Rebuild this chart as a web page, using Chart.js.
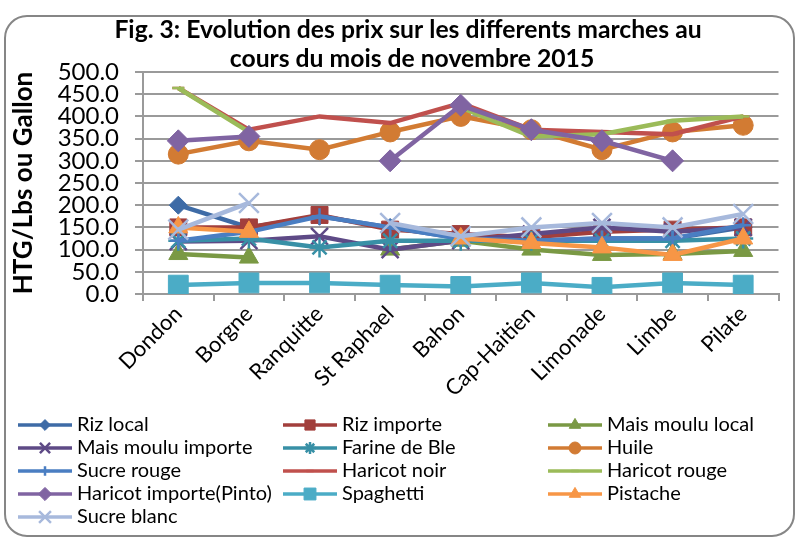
<!DOCTYPE html>
<html>
<head>
<meta charset="utf-8">
<script src="https://cdn.jsdelivr.net/npm/chart.js@4.4.1/dist/chart.umd.min.js"></script>
<style>
  html, body { margin: 0; padding: 0; background: #fff; }
  #wrap { width: 795px; height: 539px; }
</style>
</head>
<body>
<div id="wrap"><canvas id="chart" width="795" height="539"></canvas></div>
<script>
const FONT = "Lato, 'Open Sans', sans-serif";

const categories = ["Dondon", "Borgne", "Ranquitte", "St Raphael", "Bahon", "Cap-Haitien", "Limonade", "Limbe", "Pilate"];
const yTicks = { min: 0, max: 500, step: 50 };

const rizLocal        = [200, 150, 175, 150, 125, 120, 125, 125, 150];
const rizImporte      = [150, 150, 178, 145, 135, 128, 140, 145, 150];
const maisLocal       = [90, 82, null, 100, 120, 100, 88, 90, 97];
const maisImporte     = [118, 120, 130, 100, 120, 135, 150, 140, 150];
const farineBle       = [120, 125, 105, 120, 120, 120, 120, 120, 125];
const huile           = [315, 345, 325, 365, 400, 370, 325, 365, 380];
const sucreRouge      = [120, 140, 175, 150, 125, 120, 125, 125, 155];
const haricotNoir     = [464, 370, 400, 385, 430, 370, 365, 360, 400];
const haricotRouge    = [464, 365, null, null, 420, 355, 360, 390, 400];
const haricotImporte  = [345, 355, null, 300, 425, 370, 345, 300, null];
const spaghetti       = [20, 25, 25, 20, 17, 25, 15, 25, 20];
const pistache        = [150, 140, null, null, 125, 115, 105, 88, 125];
const sucreBlanc      = [145, 205, null, 160, 130, 150, 160, 150, 180];

// label, data, colour, marker, marker radius
const series = [
  ["Riz local", rizLocal, "#3E6BA6", "rectRot", 9],
  ["Riz importe", rizImporte, "#A23F3C", "rect", 12],
  ["Mais moulu local", maisLocal, "#7A9944", "triangle", 11],
  ["Mais moulu importe", maisImporte, "#5E4A86", "crossRot", 12],
  ["Farine de Ble", farineBle, "#3890A6", "star", 10],
  ["Huile", huile, "#D27B33", "circle", 10],
  ["Sucre rouge", sucreRouge, "#4A7EC2", "cross", 8],
  ["Haricot noir", haricotNoir, "#C0504D", "line", 6],
  ["Haricot rouge", haricotRouge, "#9BBB59", "line", 6],
  ["Haricot importe(Pinto)", haricotImporte, "#8064A2", "rectRot", 11],
  ["Spaghetti", spaghetti, "#4BACC6", "rect", 14],
  ["Pistache", pistache, "#F79646", "triangle", 11],
  ["Sucre blanc", sucreBlanc, "#A7B9DC", "crossRot", 14]
];

const datasets = series.map(([label, data, color, style, r], i) => ({
  label: label,
  data: data,
  borderColor: color,
  backgroundColor: color,
  pointBackgroundColor: color,
  pointBorderColor: color,
  pointStyle: style,
  pointRadius: r,
  pointBorderWidth: (style === "cross" || style === "crossRot" || style === "star" || style === "line") ? 2.5 : 1,
  borderWidth: 4.5,
  tension: 0,
  spanGaps: false,
  order: series.length - i
}));

const frame = {
  id: "frame",
  beforeDraw(chart) {
    const ctx = chart.ctx;
    ctx.save();
    ctx.fillStyle = "#fff";
    ctx.fillRect(0, 0, chart.width, chart.height);
    ctx.strokeStyle = "#868686";
    ctx.lineWidth = 2;
    ctx.beginPath();
    ctx.roundRect(5, 16, 789, 520, 22);
    ctx.stroke();
    // title
    ctx.fillStyle = "#000";
    ctx.font = "bold 24.7px " + FONT;
    ctx.textAlign = "center";
    ctx.textBaseline = "middle";
    ctx.fillText("Fig. 3: Evolution des prix sur les differents marches au", 408, 30);
    ctx.fillText("cours du mois de novembre 2015", 412, 59);
    ctx.restore();
  }
};

const legendCols = [18, 283, 548];
const legendRows = [425, 448, 471, 494, 517];

const gridLegend = {
  id: "gridLegend",
  afterDraw(chart) {
    const ctx = chart.ctx;
    ctx.save();
    chart.data.datasets.forEach((ds, i) => {
      const x = legendCols[i % 3];
      const y = legendRows[Math.floor(i / 3)];
      ctx.strokeStyle = ds.borderColor;
      ctx.lineWidth = 3.5;
      ctx.beginPath();
      ctx.moveTo(x, y);
      ctx.lineTo(x + 54, y);
      ctx.stroke();
      ctx.fillStyle = ds.borderColor;
      ctx.lineWidth = ds.pointBorderWidth;
      Chart.helpers.drawPoint(ctx, {
        pointStyle: ds.pointStyle,
        radius: ds.pointRadius * 0.6,
        rotation: 0,
        borderWidth: ds.pointBorderWidth
      }, x + 27, y);
      ctx.fillStyle = "#000";
      ctx.font = "20px " + FONT;
      ctx.textAlign = "left";
      ctx.textBaseline = "middle";
      ctx.fillText(ds.label, x + 59, y);
    });
    ctx.restore();
  }
};

new Chart(document.getElementById("chart"), {
  type: "line",
  data: { labels: categories, datasets: datasets },
  plugins: [frame, gridLegend],
  options: {
    responsive: false,
    animation: false,
    layout: { padding: { top: 72, left: 8, right: 13, bottom: 135 } },
    plugins: {
      legend: { display: false },
      title: { display: false },
      tooltip: { enabled: false }
    },
    scales: {
      x: {
        offset: true,
        grid: { offset: true, drawOnChartArea: false, drawTicks: true, tickLength: 7, color: "#9a9a9a", lineWidth: 2 },
        border: { color: "#9a9a9a", width: 2 },
        ticks: { minRotation: 45, maxRotation: 45, autoSkip: false, padding: 0, color: "#000", font: { family: FONT, size: 22 } },
        afterFit: (s) => { s.height = 110; }
      },
      y: {
        min: yTicks.min,
        max: yTicks.max,
        ticks: { stepSize: yTicks.step, autoSkip: false, padding: 16, color: "#000", font: { family: FONT, size: 24 }, callback: (v) => v.toFixed(1) },
        grid: { color: "#9a9a9a", lineWidth: 2, tickLength: 8 },
        border: { color: "#9a9a9a", width: 2 },
        title: { display: true, text: "HTG/Lbs ou Gallon", color: "#000", padding: { top: 0, bottom: 0 }, font: { family: FONT, size: 26, weight: "bold" } },
        afterFit: (s) => { s.width = 135; }
      }
    }
  }
});
</script>
</body>
</html>
